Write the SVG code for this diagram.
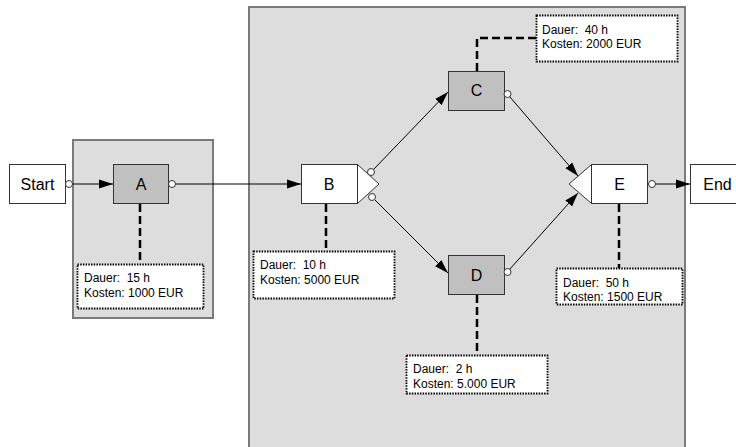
<svg xmlns="http://www.w3.org/2000/svg" width="736" height="447" viewBox="0 0 736 447">
  <defs>
    <style>
      .panel { fill: #dddddd; stroke: #7a7a7a; stroke-width: 2; }
      .box { stroke: #333333; stroke-width: 1; }
      .white { fill: #ffffff; }
      .grey { fill: #c0c0c0; }
      .label { font-family: "Liberation Sans", Arial, sans-serif; font-size: 16px; fill: #000000; text-anchor: middle; }
      .note { fill: #ffffff; stroke: #000000; stroke-width: 1.8; stroke-dasharray: 1.5 1.2; }
      .note-text { font-family: "Liberation Sans", Arial, sans-serif; font-size: 12px; fill: #000000; white-space: pre; }
      .flow { fill: none; stroke: #000000; stroke-width: 1; }
      .link { fill: none; stroke: #000000; stroke-width: 2.5; stroke-dasharray: 8 4; }
      .port { fill: #ffffff; stroke: #333333; stroke-width: 1; }
    </style>
    <marker id="arrow" markerUnits="userSpaceOnUse" markerWidth="15" markerHeight="10" refX="14" refY="5" orient="auto">
      <path d="M0,0.5 L14,5 L0,9.5 Z" fill="#000000"/>
    </marker>
  </defs>

  <!-- grouping panels -->
  <rect class="panel" x="249" y="7" width="436" height="460"/>
  <rect class="panel" x="73" y="140" width="140" height="178"/>

  <!-- connectors -->
  <g id="connectors">
    <line class="flow" x1="72.5" y1="184" x2="113" y2="184" marker-end="url(#arrow)"/>
    <line class="flow" x1="175.5" y1="184" x2="301" y2="184" marker-end="url(#arrow)"/>
    <line class="flow" x1="373.5" y1="169.5" x2="448" y2="92" marker-end="url(#arrow)"/>
    <line class="flow" x1="374.5" y1="199.5" x2="448" y2="273" marker-end="url(#arrow)"/>
    <line class="flow" x1="509.5" y1="96.5" x2="578" y2="176" marker-end="url(#arrow)"/>
    <line class="flow" x1="509.5" y1="269.5" x2="578" y2="193" marker-end="url(#arrow)"/>
    <line class="flow" x1="655.5" y1="184" x2="690" y2="184" marker-end="url(#arrow)"/>
    <!-- attribute links -->
    <path class="link" d="M140,204 V264"/>
    <path class="link" d="M326,204 V251"/>
    <path class="link" d="M477,71 V38 H536"/>
    <path class="link" d="M477,295 V355"/>
    <path class="link" d="M619,204 V268"/>
  </g>

  <g id="start">
    <rect class="box white" x="9.5" y="164.5" width="56" height="39"/>
    <text class="label" x="37.5" y="190">Start</text>
    <circle class="port" cx="69" cy="184" r="3.5"/>
  </g>

  <g id="A">
    <rect class="box grey" x="113.5" y="164.5" width="55" height="39"/>
    <text class="label" x="141" y="190">A</text>
    <circle class="port" cx="172" cy="184" r="3.5"/>
  </g>

  <g id="B">
    <rect class="box white" x="301.5" y="164.5" width="56" height="39"/>
    <path class="box white" d="M357.5,164.5 L379,184 L357.5,203.5 Z"/>
    <text class="label" x="329" y="190">B</text>
    <circle class="port" cx="371" cy="172" r="3.5"/>
    <circle class="port" cx="372" cy="197" r="3.5"/>
  </g>

  <g id="C">
    <rect class="box grey" x="448.5" y="71.5" width="56" height="39"/>
    <text class="label" x="476.5" y="96">C</text>
    <circle class="port" cx="507.5" cy="94" r="3.5"/>
  </g>

  <g id="D">
    <rect class="box grey" x="448.5" y="255.5" width="56" height="39"/>
    <text class="label" x="476.5" y="281">D</text>
    <circle class="port" cx="507.5" cy="272" r="3.5"/>
  </g>

  <g id="E">
    <rect class="box white" x="591.5" y="164.5" width="56" height="39"/>
    <path class="box white" d="M591.5,164.5 L569,184 L591.5,203.5 Z"/>
    <text class="label" x="619.5" y="190">E</text>
    <circle class="port" cx="652" cy="184" r="3.5"/>
  </g>

  <g id="end">
    <rect class="box white" x="690.5" y="164.5" width="56" height="39"/>
    <text class="label" x="717.5" y="190">End</text>
  </g>

  <!-- duration / cost notes -->
  <g id="note-A">
    <rect class="note" x="77.5" y="264.5" width="126" height="44"/>
    <text class="note-text" x="84" y="282">Dauer:  15 h</text>
    <text class="note-text" x="84" y="297">Kosten: 1000 EUR</text>
  </g>
  <g id="note-B">
    <rect class="note" x="253.5" y="251.5" width="141" height="47"/>
    <text class="note-text" x="260" y="269">Dauer:  10 h</text>
    <text class="note-text" x="260" y="284">Kosten: 5000 EUR</text>
  </g>
  <g id="note-C">
    <rect class="note" x="536.5" y="15.5" width="141" height="46"/>
    <text class="note-text" x="542" y="34">Dauer:  40 h</text>
    <text class="note-text" x="542" y="48">Kosten: 2000 EUR</text>
  </g>
  <g id="note-D">
    <rect class="note" x="406.5" y="355.5" width="141" height="38"/>
    <text class="note-text" x="413" y="373">Dauer:  2 h</text>
    <text class="note-text" x="413" y="388">Kosten: 5.000 EUR</text>
  </g>
  <g id="note-E">
    <rect class="note" x="556.5" y="268.5" width="126" height="36"/>
    <text class="note-text" x="563" y="286.5">Dauer:  50 h</text>
    <text class="note-text" x="563" y="301">Kosten: 1500 EUR</text>
  </g>
</svg>
